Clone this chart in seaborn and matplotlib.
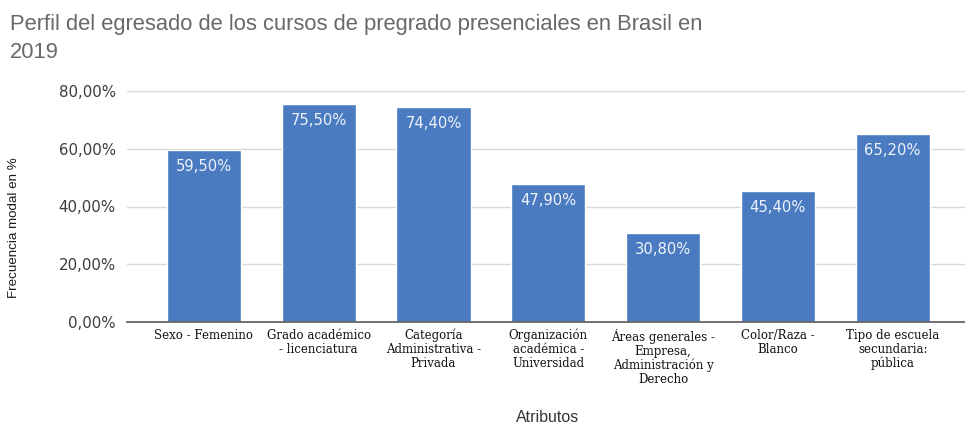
import matplotlib
matplotlib.use("Agg")
import matplotlib.pyplot as plt
import seaborn as sns
import pandas as pd
from matplotlib.ticker import FuncFormatter

categories = [
    "Sexo - Femenino",
    "Grado académico\n- licenciatura",
    "Categoría\nAdministrativa -\nPrivada",
    "Organización\nacadémica -\nUniversidad",
    "Áreas generales -\nEmpresa,\nAdministración y\nDerecho",
    "Color/Raza -\nBlanco",
    "Tipo de escuela\nsecundaria:\npública",
]
values = [59.5, 75.5, 74.4, 47.9, 30.8, 45.4, 65.2]
yticks = [0, 20, 40, 60, 80]

title = "Perfil del egresado de los cursos de pregrado presenciales en Brasil en\n2019"
ylabel = "Frecuencia modal en %"
xlabel = "Atributos"

sns.set_style("white")
plt.rcParams['font.family'] = ['Liberation Sans', 'DejaVu Sans']

df = pd.DataFrame({"cat": categories, "val": values})

fig = plt.figure(figsize=(9.65, 4.25), dpi=100)
ax = fig.add_axes([127/965, 1 - 322/425, 1 - 127/965, (322 - 91)/425])

sns.barplot(data=df, x="cat", y="val", color="#4a7bc1", saturation=1,
            width=0.645, ax=ax, zorder=3)

ax.set_ylim(0, 80)
ax.set_xlim(-0.67, 6.63)
ax.set_yticks(yticks)
ax.yaxis.set_major_formatter(FuncFormatter(lambda v, p: f"{v:.2f}".replace('.', ',') + "%"))
ax.grid(axis='y', color='#d9d9d9', linewidth=1, zorder=0)
ax.grid(axis='x', visible=False)
for s in ['top', 'right', 'left']:
    ax.spines[s].set_visible(False)
ax.spines['bottom'].set_color('#666666')
ax.spines['bottom'].set_linewidth(1.3)
ax.spines['bottom'].set_zorder(4)

ax.tick_params(axis='y', length=0, pad=8, labelcolor='#3c3c3c')
for lab in ax.get_yticklabels():
    lab.set_fontfamily('DejaVu Sans')
    lab.set_fontsize(10.8)
ax.tick_params(axis='x', length=0, pad=5)
ax.set_xticks(range(len(categories)))
ax.set_xticklabels(categories, fontfamily='DejaVu Serif', fontsize=8.5, color='#111111',
                   linespacing=1.08, va='top', ha='center')

ax.set_ylabel(ylabel, fontsize=9.6, color='#1a1a1a')
ax.yaxis.set_label_coords((20 - 127) / (965 - 127), (322 - 228) / (322 - 91))
ax.set_xlabel(xlabel, fontsize=11.5, color='#333333')
ax.xaxis.set_label_coords((548 - 127) / (965 - 127), -(410 - 322) / (322 - 91))

for i, v in enumerate(values):
    ax.annotate(f"{v:.2f}".replace('.', ',') + "%", (i, v), xytext=(0, -12),
                textcoords='offset points', ha='center', va='center',
                color='#eef2fa', fontsize=10.6, fontfamily='DejaVu Sans', zorder=5)

fig.text(10/965, 1 - 14/425, title, ha='left', va='top', fontsize=15.8,
         color='#686868', linespacing=1.45)

fig.savefig("out.png", dpi=100)
